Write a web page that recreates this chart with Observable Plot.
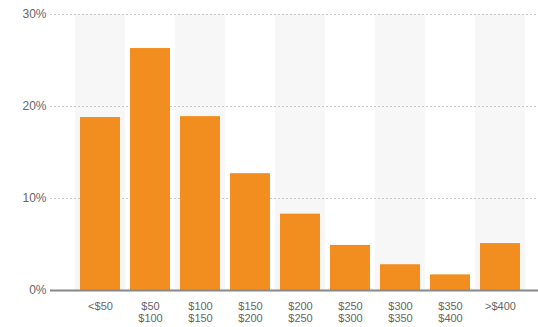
<!DOCTYPE html>
<html>
<head>
<meta charset="utf-8">
<script src="https://cdn.jsdelivr.net/npm/d3@7"></script>
<script src="https://cdn.jsdelivr.net/npm/@observablehq/plot@0.6"></script>
<style>
  html, body { margin: 0; padding: 0; background: #fff; }
  svg { display: block; }
</style>
</head>
<body>
<div id="chart"></div>
<script>
const categories = ["<$50", "$50\n$100", "$100\n$150", "$150\n$200", "$200\n$250", "$250\n$300", "$300\n$350", "$350\n$400", ">$400"];
const values = [18.8, 26.3, 18.9, 12.7, 8.3, 4.9, 2.8, 1.7, 5.1];
const yTicks = [0, 10, 20, 30];

const data = categories.map((c, i) => ({category: c, value: values[i], shaded: i % 2 === 0}));

const chart = Plot.plot({
  width: 538,
  height: 327,
  marginLeft: 50,
  marginRight: 0,
  marginTop: 14,
  marginBottom: 37,
  style: {fontFamily: "'Liberation Sans', Arial, sans-serif", background: "#fff"},
  x: {domain: categories, range: [75, 525], paddingInner: 0.2, paddingOuter: 0.1},
  y: {domain: [0, 30]},
  marks: [
    Plot.barY(data.filter(d => d.shaded), {x: "category", y1: 0, y2: 30, fill: "#f7f7f7", insetLeft: -5, insetRight: -5}),
    Plot.ruleY(yTicks.filter(t => t > 0), {stroke: "#c8c8c8", strokeDasharray: "2,2", strokeWidth: 1}),
    Plot.barY(data, {x: "category", y: "value", fill: "#f28e1f"}),
    Plot.ruleY([0], {stroke: "#888", strokeWidth: 2}),
    Plot.axisY(yTicks, {tickSize: 0, tickPadding: 4, tickFormat: d => d + "%", fill: "#666", fontSize: 12, label: null}),
    Plot.axisX({tickSize: 0, tickPadding: 11, fill: "#666", fontSize: 11, label: null, lineHeight: 1.1})
  ]
});
document.getElementById("chart").appendChild(chart);
</script>
</body>
</html>
